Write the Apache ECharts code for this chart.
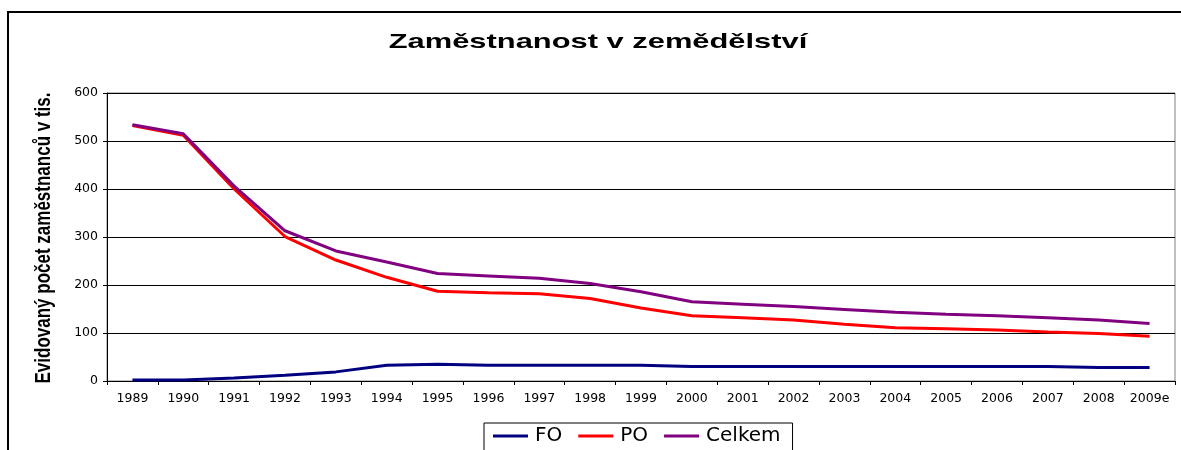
<!DOCTYPE html>
<html>
<head>
<meta charset="utf-8">
<script src="https://cdn.jsdelivr.net/npm/echarts@6/dist/echarts.min.js"></script>
<style>
html,body{margin:0;padding:0;background:#fff;}
#chart{width:1181px;height:450px;}
</style>
</head>
<body>
<div id="chart"></div>
<script>
var years = ['1989','1990','1991','1992','1993','1994','1995','1996','1997','1998','1999','2000','2001','2002','2003','2004','2005','2006','2007','2008','2009e'];
var foValues = [2, 2, 6, 12, 19, 33, 35, 33, 33, 33, 33, 30, 30, 30, 30, 30, 30, 30, 30, 28, 28];
var poValues = [532, 512, 400, 301, 252, 216, 187, 184, 182, 172, 152, 136, 132, 127, 118, 111, 109, 106, 102, 99, 93];
var celkemValues = [534, 515, 406, 313, 271, 248, 224, 219, 214, 203, 186, 165, 160, 155, 149, 143, 139, 136, 132, 127, 120];
var titleText = 'Zaměstnanost v zemědělství';
var yAxisTitle = 'Evidovaný počet zaměstnanců v tis.';

var chart = echarts.init(document.getElementById('chart'));
var tickFont = { fontFamily: 'DejaVu Sans', fontSize: 12.5, color: '#000' };
chart.setOption({
  animation: false,
  backgroundColor: '#fff',
  graphic: [
    { type: 'rect', shape: { x: 8, y: 12, width: 1200, height: 500 }, style: { fill: 'none', stroke: '#000', lineWidth: 2 }, z: 0 },
    { type: 'text', x: 598, y: 42, scaleX: 1.47, style: { text: titleText, font: 'bold 21px "Liberation Sans", Arial', fill: '#000', textAlign: 'center', textVerticalAlign: 'middle' } },
    { type: 'text', x: 44, y: 238, rotation: Math.PI / 2, scaleY: 1.35, style: { text: yAxisTitle, font: 'bold 17px "Liberation Sans Narrow", "Arial Narrow", "Liberation Sans"', fill: '#000', textAlign: 'center', textVerticalAlign: 'middle' } }
  ],
  grid: { left: 107, top: 93, right: 6, bottom: 69, show: true, borderColor: '#808080', borderWidth: 1 },
  legend: {
    data: ['FO', 'PO', 'Celkem'],
    left: 484, top: 423,
    padding: [3, 12, 40, 9],
    itemGap: 16,
    itemWidth: 35, itemHeight: 3,
    icon: 'rect',
    borderColor: '#000', borderWidth: 1,
    textStyle: { fontFamily: 'DejaVu Sans', fontSize: 20, color: '#000', padding: [0, 0, 0, 2] }
  },
  xAxis: {
    type: 'category',
    data: years,
    boundaryGap: true,
    axisLine: { lineStyle: { color: '#000', width: 1 } },
    axisTick: { show: true, length: 4, lineStyle: { color: '#000' } },
    axisLabel: Object.assign({ margin: 11, interval: 0 }, tickFont),
    splitLine: { show: false }
  },
  yAxis: {
    type: 'value',
    min: 0, max: 600, interval: 100,
    axisLine: { show: true, lineStyle: { color: '#000', width: 1 } },
    axisTick: { show: true, length: 4, lineStyle: { color: '#000' } },
    axisLabel: Object.assign({ margin: 9 }, tickFont),
    splitLine: { show: true, lineStyle: { color: '#000', width: 1 } }
  },
  series: [
    { name: 'FO', type: 'line', data: foValues, symbol: 'none', lineStyle: { color: '#000080', width: 3 }, itemStyle: { color: '#000080' } },
    { name: 'PO', type: 'line', data: poValues, symbol: 'none', lineStyle: { color: '#FF0000', width: 3 }, itemStyle: { color: '#FF0000' } },
    { name: 'Celkem', type: 'line', data: celkemValues, symbol: 'none', lineStyle: { color: '#800080', width: 3 }, itemStyle: { color: '#800080' } }
  ]
});
</script>
</body>
</html>
